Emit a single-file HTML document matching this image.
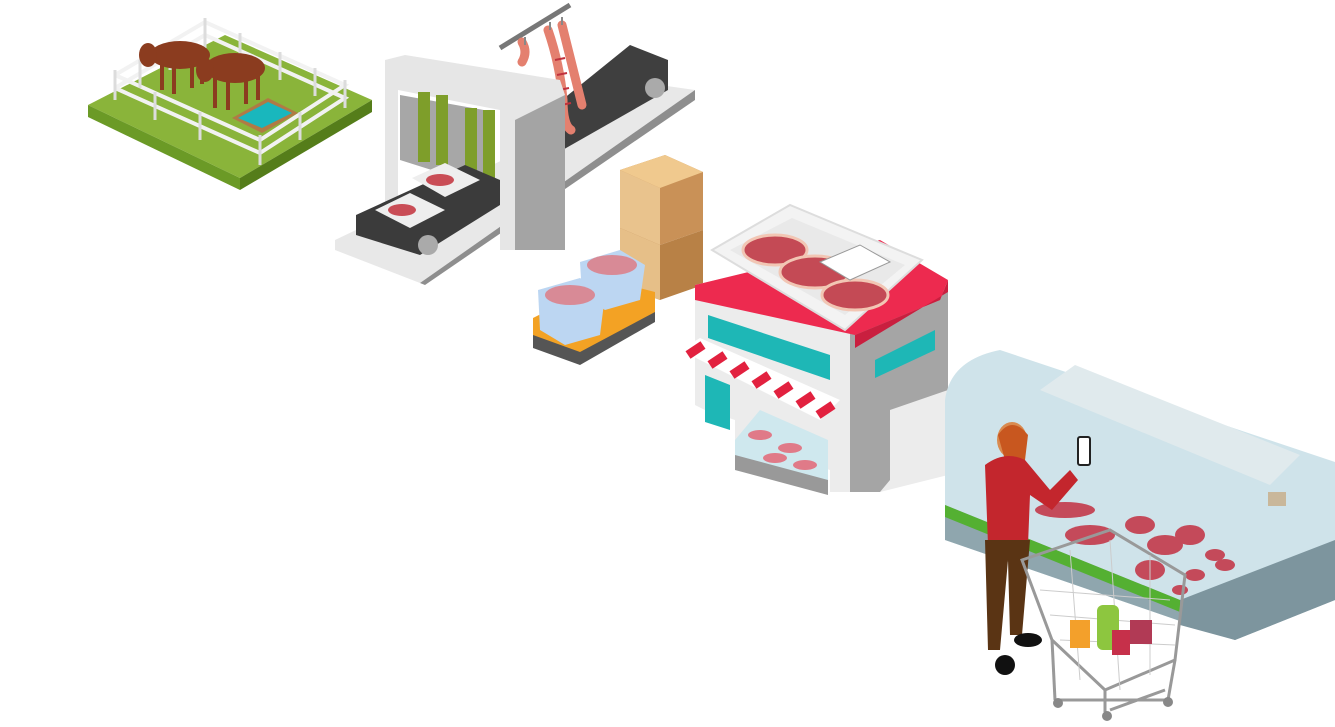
<!DOCTYPE html>
<html><head><meta charset="utf-8"><style>
html,body{margin:0;padding:0;background:#fff;}
svg{display:block}
</style></head><body>
<svg width="1335" height="727" viewBox="0 0 1335 727" xmlns="http://www.w3.org/2000/svg">
<!-- FARM -->
<polygon points="88,105 225,35 372,100 240,178" fill="#8ab43a"/>
<polygon points="88,105 240,178 240,190 88,117" fill="#6b9a26"/>
<polygon points="240,178 372,100 372,112 240,190" fill="#557d1a"/>
<g stroke="#f2f2f2" stroke-width="4" fill="none">
<polyline points="115,75 205,22 345,85 260,140 115,75"/>
<polyline points="115,88 205,35 345,98 260,153 115,88"/>
</g>
<g stroke="#dcdcdc" stroke-width="3">
<line x1="115" y1="70" x2="115" y2="100"/><line x1="140" y1="60" x2="140" y2="88"/><line x1="170" y1="42" x2="170" y2="70"/><line x1="205" y1="18" x2="205" y2="48"/>
<line x1="240" y1="33" x2="240" y2="62"/><line x1="280" y1="52" x2="280" y2="80"/><line x1="315" y1="68" x2="315" y2="96"/><line x1="345" y1="80" x2="345" y2="108"/>
<line x1="300" y1="112" x2="300" y2="140"/><line x1="260" y1="135" x2="260" y2="165"/><line x1="200" y1="112" x2="200" y2="140"/><line x1="155" y1="92" x2="155" y2="120"/>
</g>
<polygon points="232,118 268,98 298,113 262,133" fill="#b07a45"/>
<polygon points="238,118 268,102 292,113 262,128" fill="#19b7bd"/>
<g fill="#8b3c1f">
<ellipse cx="180" cy="55" rx="30" ry="14"/><rect x="160" y="60" width="4" height="30"/><rect x="172" y="62" width="4" height="32"/><rect x="190" y="60" width="4" height="28"/><rect x="200" y="58" width="4" height="26"/>
<ellipse cx="148" cy="55" rx="9" ry="12"/>
<ellipse cx="235" cy="68" rx="30" ry="15"/><rect x="213" y="74" width="4" height="34"/><rect x="226" y="76" width="4" height="34"/><rect x="244" y="74" width="4" height="30"/><rect x="256" y="70" width="4" height="30"/>
<ellipse cx="205" cy="70" rx="9" ry="12"/>
</g>
<!-- PROCESSING -->
<polygon points="335,240 660,85 695,90 420,283 335,250" fill="#e8e8e8"/>
<polygon points="420,283 695,90 695,100 425,285" fill="#8e8e8e"/>
<polygon points="500,150 630,45 668,60 668,90 545,160" fill="#3f3f3f"/>
<circle cx="655" cy="88" r="10" fill="#aaa"/>
<line x1="500" y1="48" x2="570" y2="5" stroke="#777" stroke-width="5"/>
<g stroke="#e4806f" stroke-width="9" fill="none" stroke-linecap="round">
<path d="M522 42 q6 10 0 20"/>
<path d="M548 30 q12 35 15 70 q0 25 8 30"/>
<path d="M562 25 q10 40 20 80"/>
</g>
<g stroke="#c0323d" stroke-width="2"><line x1="555" y1="60" x2="565" y2="58"/><line x1="557" y1="75" x2="567" y2="73"/><line x1="559" y1="90" x2="569" y2="88"/><line x1="561" y1="105" x2="571" y2="103"/></g>
<g stroke="#888" stroke-width="2"><line x1="525" y1="37" x2="525" y2="45"/><line x1="550" y1="22" x2="550" y2="30"/><line x1="562" y1="17" x2="562" y2="25"/></g>
<!-- gate -->
<polygon points="385,60 405,55 560,80 565,95 565,250 500,250 500,110 398,90 398,200 385,205" fill="#e6e6e6"/>
<polygon points="515,120 565,95 565,250 515,250" fill="#a4a4a4"/>
<polygon points="400,95 495,112 495,190 400,160" fill="#a7a7a7"/>
<g fill="#7e9e2a"><rect x="418" y="92" width="12" height="70"/><rect x="436" y="95" width="12" height="70"/><rect x="465" y="108" width="12" height="80"/><rect x="483" y="110" width="12" height="82"/></g>
<polygon points="356,215 465,165 500,180 500,205 420,255 356,235" fill="#3b3b3b"/>
<circle cx="428" cy="245" r="10" fill="#aaa"/>
<polygon points="375,210 410,193 445,210 410,228" fill="#eee"/>
<polygon points="412,178 445,163 480,180 445,197" fill="#eee"/>
<g fill="#c94d56"><ellipse cx="402" cy="210" rx="14" ry="6"/><ellipse cx="440" cy="180" rx="14" ry="6"/></g>
<!-- BOXES -->
<polygon points="620,170 665,155 703,172 703,230 660,245 620,228" fill="#c99157"/>
<polygon points="620,170 665,155 703,172 660,188" fill="#f0c98e"/>
<polygon points="620,170 660,188 660,245 620,228" fill="#e9c38d"/>
<polygon points="620,228 660,245 703,230 703,285 660,300 620,285" fill="#b88146"/>
<polygon points="620,228 660,245 660,300 620,285" fill="#e6bf88"/>
<polygon points="533,318 608,280 655,292 655,315 580,355 533,340" fill="#f3a224"/>
<polygon points="533,335 580,352 655,312 655,322 580,365 533,348" fill="#555"/>
<polygon points="538,290 580,278 605,295 600,335 565,345 540,330" fill="#bcd6f2"/>
<polygon points="580,262 620,250 645,265 640,300 605,310 582,295" fill="#bcd6f2"/>
<ellipse cx="570" cy="295" rx="25" ry="10" fill="#d88a96"/>
<ellipse cx="612" cy="265" rx="25" ry="10" fill="#d88a96"/>
<!-- SHOP -->
<polygon points="695,285 880,240 948,290 948,475 880,492 830,492 830,470 735,440 735,420 705,410 695,405" fill="#ececec"/>
<polygon points="850,330 948,290 948,390 890,410 890,480 880,492 850,492" fill="#a5a5a5"/>
<polygon points="695,285 880,240 948,280 940,300 855,335 695,300" fill="#ed2a4f"/>
<polygon points="855,335 940,300 948,280 948,292 855,348" fill="#c91f3f"/>
<polygon points="708,315 830,355 830,380 708,338" fill="#1eb7b6"/>
<polygon points="875,360 935,330 935,350 875,378" fill="#1eb7b6"/>
<polygon points="705,375 730,385 730,430 705,422" fill="#1eb7b6"/>
<polygon points="680,350 700,338 840,400 820,420" fill="#fff"/>
<g stroke="#e2213f" stroke-width="9">
<line x1="688" y1="355" x2="703" y2="345"/><line x1="710" y1="365" x2="725" y2="355"/><line x1="732" y1="375" x2="747" y2="365"/><line x1="754" y1="385" x2="769" y2="375"/><line x1="776" y1="395" x2="791" y2="385"/><line x1="798" y1="405" x2="813" y2="395"/><line x1="818" y1="415" x2="833" y2="405"/>
</g>
<polygon points="735,440 760,410 828,440 828,492 735,470" fill="#cfe8ee"/>
<polygon points="735,455 828,480 828,495 735,470" fill="#999"/>
<g fill="#e07a88"><ellipse cx="760" cy="435" rx="12" ry="5"/><ellipse cx="790" cy="448" rx="12" ry="5"/><ellipse cx="775" cy="458" rx="12" ry="5"/><ellipse cx="805" cy="465" rx="12" ry="5"/></g>
<polygon points="712,250 790,205 922,260 845,330" fill="#f3f3f3" stroke="#ddd" stroke-width="2"/>
<polygon points="730,250 792,218 905,265 845,315" fill="#e9e9e9"/>
<g fill="#c44a55" stroke="#f2c6b4" stroke-width="3">
<ellipse cx="775" cy="250" rx="32" ry="15"/><ellipse cx="815" cy="272" rx="35" ry="16"/><ellipse cx="855" cy="295" rx="33" ry="15"/></g>
<polygon points="820,262 860,245 890,262 850,280" fill="#fff" stroke="#999"/>
<!-- COUNTER -->
<path d="M945,400 Q950,360 1000,350 L1335,462 L1335,585 L1235,640 L945,540 Z" fill="#cfe3ea"/>
<polygon points="1040,390 1075,365 1300,455 1270,485" fill="#e0eaed"/>
<polygon points="945,505 1180,600 1335,560 1335,600 1235,640 945,540" fill="#8fa6ae"/>
<polygon points="1180,600 1335,540 1335,600 1235,640 1180,625" fill="#7d959e"/>
<polygon points="945,505 1180,600 1180,612 945,517" fill="#54b032"/>
<rect x="1268" y="492" width="18" height="14" fill="#c9b79a"/>
<g fill="#c44a5a">
<ellipse cx="1065" cy="510" rx="30" ry="8"/><ellipse cx="1090" cy="535" rx="25" ry="10"/><ellipse cx="1140" cy="525" rx="15" ry="9"/><ellipse cx="1165" cy="545" rx="18" ry="10"/><ellipse cx="1190" cy="535" rx="15" ry="10"/><ellipse cx="1215" cy="555" rx="10" ry="6"/><ellipse cx="1195" cy="575" rx="10" ry="6"/><ellipse cx="1150" cy="570" rx="15" ry="10"/><ellipse cx="1180" cy="590" rx="8" ry="5"/><ellipse cx="1225" cy="565" rx="10" ry="6"/>
</g>
<!-- MAN -->
<ellipse cx="1012" cy="440" rx="15" ry="18" fill="#d98a4f"/>
<path d="M998 435 q14 -20 30 0 l-3 25 -20 0z" fill="#c8571f"/>
<path d="M985 465 q20 -15 40 -5 l25 30 20 -20 8 10 -26 30 -22 -15 -2 50 -40 0z" fill="#c3262d"/>
<path d="M985 540 l45 0 -8 95 -12 0 -2 -75 -8 90 -12 0z" fill="#5a3414"/>
<ellipse cx="1005" cy="665" rx="10" ry="10" fill="#111"/>
<ellipse cx="1028" cy="640" rx="14" ry="7" fill="#111"/>
<rect x="1078" y="437" width="12" height="28" rx="2" fill="#fff" stroke="#222" stroke-width="2"/>
<!-- CART -->
<g stroke="#999" stroke-width="3" fill="none">
<polygon points="1022,560 1110,530 1185,575 1175,660 1105,690 1052,640"/>
<line x1="1052" y1="640" x2="1055" y2="700"/><line x1="1105" y1="690" x2="1105" y2="712"/><line x1="1175" y1="660" x2="1168" y2="700"/>
<line x1="1055" y1="700" x2="1165" y2="700"/><line x1="1110" y1="710" x2="1165" y2="690"/>
</g>
<g stroke="#ccc" stroke-width="1">
<line x1="1040" y1="590" x2="1170" y2="600"/><line x1="1050" y1="615" x2="1175" y2="625"/><line x1="1060" y1="640" x2="1175" y2="645"/>
<line x1="1070" y1="550" x2="1080" y2="680"/><line x1="1110" y1="540" x2="1120" y2="690"/><line x1="1150" y1="555" x2="1150" y2="675"/>
</g>
<rect x="1070" y="620" width="20" height="28" fill="#f3a02b"/>
<rect x="1097" y="605" width="22" height="45" rx="6" fill="#8dc63f"/>
<rect x="1112" y="630" width="18" height="25" fill="#c6304a"/>
<rect x="1130" y="620" width="22" height="24" fill="#b13a55"/>
<g fill="#888"><circle cx="1058" cy="703" r="5"/><circle cx="1107" cy="716" r="5"/><circle cx="1168" cy="702" r="5"/></g>
</svg>
</body></html>
